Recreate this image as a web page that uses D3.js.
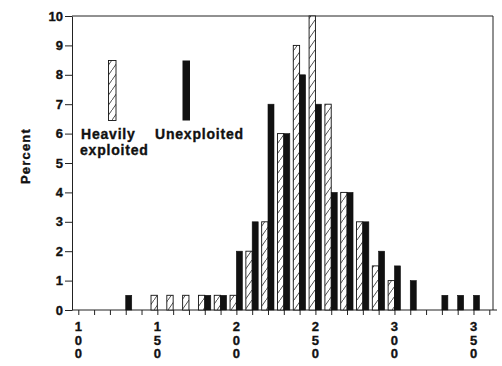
<!DOCTYPE html>
<html>
<head>
<meta charset="utf-8">
<script src="https://cdn.jsdelivr.net/npm/d3@7"></script>
<style>
  body { margin: 0; background: #fff; }
  text { font-family: "Liberation Sans", Arial, sans-serif; font-weight: bold; fill: #111; stroke: #111; stroke-width: 0.35px; }
  .axis path, .axis line { stroke: #222; stroke-width: 1; }
</style>
</head>
<body>
<script>
// size classes (lower edge of each 10 unit bin)
var bins = [130, 140, 150, 160, 170, 180, 190, 200, 210, 220, 230, 240,
            250, 260, 270, 280, 290, 300, 310, 320, 330, 340, 350];
// percent in each bin
var heavily = [0, 0, 0.5, 0.5, 0.5, 0.5, 0.5, 0.5, 2, 3, 6, 9,
               10, 7, 4, 3, 1.5, 1, 0, 0, 0, 0, 0];
var unexploited = [0.5, 0, 0, 0, 0, 0.5, 0.5, 2, 3, 7, 6, 8,
                   7, 4, 4, 3, 2, 1.5, 1, 0, 0.5, 0.5, 0.5];
var xTicks = [100, 110, 120, 130, 140, 150, 160, 170, 180, 190, 200, 210, 220,
              230, 240, 250, 260, 270, 280, 290, 300, 310, 320, 330, 340, 350, 360];
var xLabels = [100, 150, 200, 250, 300, 350];
var yTicks = [0, 1, 2, 3, 4, 5, 6, 7, 8, 9, 10];

var width = 502, height = 366;
var svg = d3.select('body').append('svg')
  .attr('width', width)
  .attr('height', height);

var plotL = 72, plotR = 493, plotT = 16, plotB = 310;

var x = d3.scaleLinear().domain([100, 360]).range([78.3, 489.3]);
var y = d3.scaleLinear().domain([0, 10]).range([plotB, plotT]);

// hatch pattern for heavily exploited bars
var defs = svg.append('defs');
var pat = defs.append('pattern')
  .attr('id', 'hatch')
  .attr('patternUnits', 'userSpaceOnUse')
  .attr('width', 7)
  .attr('height', 10);
pat.append('rect').attr('width', 7).attr('height', 10).attr('fill', '#fff');
pat.append('path')
  .attr('d', 'M-0.7,11 L7.7,-1')
  .attr('stroke', '#222')
  .attr('stroke-width', 0.8);

// frame (top and right)
svg.append('path')
  .attr('d', 'M' + plotL + ',' + plotT + 'H' + plotR + 'V' + plotB)
  .attr('fill', 'none')
  .attr('stroke', '#222');

// y axis
var yAxis = svg.append('g')
  .attr('class', 'axis')
  .attr('transform', 'translate(' + plotL + ',0)')
  .call(d3.axisLeft(y).tickValues(yTicks).tickSize(7).tickPadding(2).tickSizeOuter(0));
yAxis.selectAll('text')
  .style('font-size', '13px')
  .style('font-family', '"Liberation Sans", Arial, sans-serif')
  .style('font-weight', 'bold');

// x axis
var xAxis = svg.append('g')
  .attr('class', 'axis')
  .attr('transform', 'translate(0,' + plotB + ')')
  .call(d3.axisBottom(x).tickValues(xTicks).tickSize(5).tickFormat('').tickSizeOuter(0));
xAxis.select('.domain').attr('d', 'M' + plotL + ',0H497');

// vertical stacked x labels
var lab = svg.append('g').selectAll('text')
  .data(xLabels)
  .enter()
  .append('text')
  .attr('text-anchor', 'middle')
  .style('font-size', '13px');
lab.each(function (d) {
  var t = d3.select(this);
  String(d).split('').forEach(function (ch, i) {
    t.append('tspan')
      .attr('x', x(d))
      .attr('y', 331 + i * 13.5)
      .text(ch);
  });
});

// bars: hatched to the left of the tick, black to the right
var barW = 4;
svg.append('g').selectAll('rect')
  .data(bins.filter(function (d, i) { return heavily[i] > 0; }))
  .enter()
  .append('rect')
  .attr('x', function (d) { return x(d - barW); })
  .attr('width', function (d) { return x(d) - x(d - barW); })
  .attr('y', function (d) { return y(heavily[bins.indexOf(d)]); })
  .attr('height', function (d) { return plotB - y(heavily[bins.indexOf(d)]); })
  .attr('fill', 'url(#hatch)')
  .attr('stroke', '#111')
  .attr('stroke-width', 0.9);

svg.append('g').selectAll('rect')
  .data(bins.filter(function (d, i) { return unexploited[i] > 0; }))
  .enter()
  .append('rect')
  .attr('x', function (d) { return x(d); })
  .attr('width', function (d) { return x(d + barW * 0.95) - x(d); })
  .attr('y', function (d) { return y(unexploited[bins.indexOf(d)]); })
  .attr('height', function (d) { return plotB - y(unexploited[bins.indexOf(d)]); })
  .attr('fill', '#111')
  .attr('stroke', '#111')
  .attr('stroke-width', 0.6);

// legend
svg.append('rect')
  .attr('x', 108.5).attr('y', 60.5).attr('width', 7.5).attr('height', 60)
  .attr('fill', 'url(#hatch)').attr('stroke', '#111').attr('stroke-width', 0.9);
svg.append('rect')
  .attr('x', 182.5).attr('y', 60.5).attr('width', 7.5).attr('height', 60)
  .attr('fill', '#111');

var leg = svg.append('g').style('font-size', '14px').style('letter-spacing', '0.8px');
leg.append('text').attr('x', 81).attr('y', 139).text('Heavily');
leg.append('text').attr('x', 80).attr('y', 155).text('exploited');
leg.append('text').attr('x', 155).attr('y', 139).text('Unexploited');

// y label
svg.append('text')
  .attr('transform', 'translate(30,156) rotate(-90)')
  .attr('text-anchor', 'middle')
  .style('font-size', '13px')
  .style('letter-spacing', '1.2px')
  .text('Percent');
</script>
</body>
</html>
